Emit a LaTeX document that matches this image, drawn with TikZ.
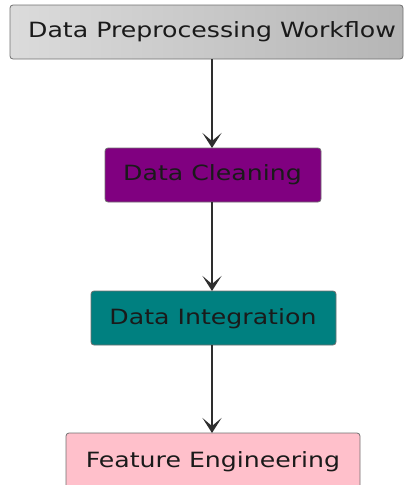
\documentclass[tikz,border=0pt]{standalone}
\usepackage{fontspec}
\setmainfont{DejaVu Sans}
\usetikzlibrary{arrows.meta}
\definecolor{edgegray}{HTML}{2E2E2E}
\definecolor{boxline}{HTML}{707070}
\definecolor{txt}{HTML}{1A1A1A}
\definecolor{cleanpurple}{HTML}{800080}
\definecolor{integteal}{HTML}{008080}
\definecolor{featpink}{HTML}{FFC0CB}
\newcommand{\wlabel}[1]{\scalebox{1.2}[1]{#1}}
\tikzset{
  x=1pt, y=-1pt,
  stage/.style={draw=boxline, line width=0.8pt, rounded corners=3pt},
  stagetext/.style={font=\fontsize{21}{25}\selectfont, text=txt, anchor=center, inner sep=0pt},
  flow/.style={draw=edgegray, line width=1.6pt, -{Stealth[length=15pt, width=19pt, inset=8pt]}}
}
\begin{document}
\begin{tikzpicture}
\useasboundingbox (0,0) rectangle (410,485);
% header box with a soft gray gradient
\shade[stage, left color=gray!28, right color=gray!58] (10,5) rectangle (403,59);
\node[stagetext] (head) at (212,32) {\wlabel{Data Preprocessing Workflow}};
\coordinate (headS) at (212,59);
% stages
\fill[cleanpurple, stage] (105,148) rectangle (321,202);
\node[stagetext] (clean) at (212.5,175) {\wlabel{Data Cleaning}};
\coordinate (cleanN) at (212,148);
\coordinate (cleanS) at (212,202);
\fill[integteal, stage] (91,291) rectangle (336,345);
\node[stagetext] (integ) at (213,319) {\wlabel{Data Integration}};
\coordinate (integN) at (212,291);
\coordinate (integS) at (212,345);
\fill[featpink, stage] (66,433) rectangle (360,490);
\node[stagetext] (feat) at (213,462) {\wlabel{Feature Engineering}};
\coordinate (featN) at (212,433);
% connectors
\draw[flow] (headS) -- (cleanN);
\draw[flow] (cleanS) -- (integN);
\draw[flow] (integS) -- (featN);
\end{tikzpicture}
\end{document}
